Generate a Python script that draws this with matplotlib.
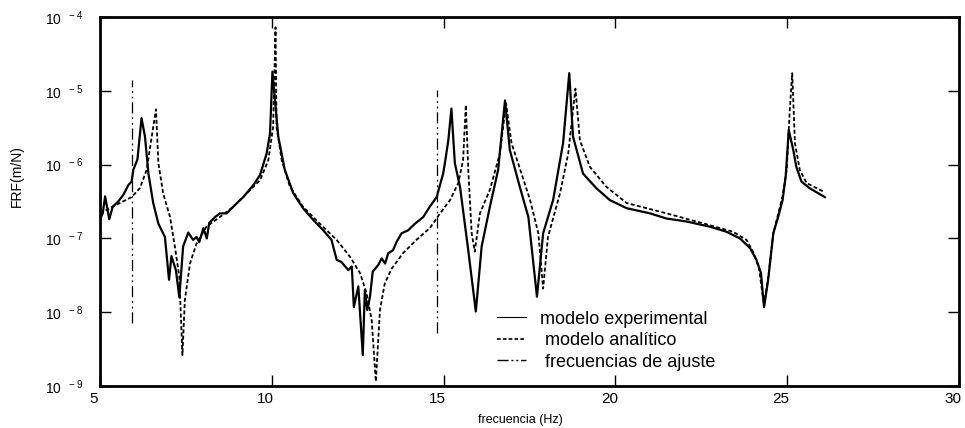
import matplotlib
matplotlib.use('Agg')
import matplotlib.pyplot as plt
import matplotlib.transforms as mtransforms
import numpy as np
from matplotlib.lines import Line2D
from matplotlib.ticker import FixedLocator, FuncFormatter

plt.rcParams['font.family'] = ['Liberation Sans', 'DejaVu Sans']
plt.rcParams['mathtext.fontset'] = 'custom'
plt.rcParams['mathtext.rm'] = 'Liberation Sans'
plt.rcParams['mathtext.default'] = 'regular'
plt.rcParams['axes.unicode_minus'] = False

# modelo experimental: frecuencia (Hz) and log10 FRF (m/N)
f_exp = [5.00, 5.08, 5.15, 5.27, 5.37, 5.53, 5.68, 5.82, 5.92, 5.97, 6.09, 6.21,
         6.31, 6.41, 6.55, 6.70, 6.89, 7.01, 7.08, 7.21, 7.31, 7.42, 7.57, 7.71,
         7.81, 7.89, 8.01, 8.11, 8.18, 8.35, 8.49, 8.69, 8.88, 9.17, 9.46, 9.66,
         9.85, 9.95, 10.02, 10.19, 10.38, 10.63, 10.91, 11.21, 11.50, 11.74, 11.89,
         12.03, 12.23, 12.33, 12.39, 12.52, 12.65, 12.71, 12.78, 12.86, 12.94,
         13.10, 13.20, 13.30, 13.39, 13.53, 13.63, 13.78, 13.97, 14.17, 14.41,
         14.60, 14.80, 14.99, 15.04, 15.14, 15.23, 15.33, 15.48, 15.72, 15.94,
         16.11, 16.35, 16.59, 16.79, 16.93, 17.22, 17.47, 17.72, 17.90, 18.19,
         18.48, 18.66, 18.77, 19.06, 19.45, 19.84, 20.33, 21.01, 21.49, 22.07,
         22.75, 23.24, 23.63, 23.92, 24.11, 24.24, 24.33, 24.45, 24.60, 24.74,
         24.87, 24.96, 25.05, 25.18, 25.27, 25.42, 25.66, 26.10]
log_exp = [-6.74, -6.66, -6.43, -6.74, -6.57, -6.50, -6.41, -6.28, -6.23, -6.07,
           -5.93, -5.37, -5.62, -6.12, -6.52, -6.80, -6.98, -7.56, -7.24, -7.43,
           -7.80, -7.11, -6.92, -7.02, -6.98, -7.05, -6.86, -7.00, -6.79, -6.71,
           -6.66, -6.66, -6.57, -6.44, -6.28, -6.14, -5.85, -5.58, -4.74, -5.62,
           -6.07, -6.39, -6.59, -6.75, -6.89, -7.02, -7.29, -7.32, -7.43, -7.38,
           -7.93, -7.65, -8.58, -7.70, -7.97, -7.79, -7.45, -7.36, -7.27, -7.34,
           -7.20, -7.16, -7.05, -6.93, -6.89, -6.80, -6.71, -6.57, -6.44, -6.12,
           -5.98, -5.67, -5.24, -5.98, -6.30, -7.16, -7.99, -7.11, -6.57, -6.07,
           -5.13, -5.80, -6.30, -6.71, -7.79, -6.93, -6.48, -5.71, -4.76, -5.62,
           -6.12, -6.32, -6.48, -6.59, -6.66, -6.73, -6.77, -6.84, -6.91, -7.00,
           -7.13, -7.29, -7.47, -7.93, -7.56, -6.93, -6.71, -6.48, -6.16, -5.53,
           -5.80, -6.03, -6.23, -6.32, -6.44]

# modelo analitico
f_ana = [5.00, 5.29, 5.58, 5.92, 6.16, 6.36, 6.50, 6.63, 6.70, 6.84, 7.04, 7.18,
         7.31, 7.40, 7.47, 7.62, 7.81, 8.10, 8.49, 8.88, 9.27, 9.66, 9.90, 10.04,
         10.11, 10.14, 10.29, 10.53, 10.91, 11.40, 11.89, 12.28, 12.57, 12.76,
         12.91, 13.03, 13.15, 13.29, 13.49, 13.82, 14.21, 14.60, 14.90, 15.19,
         15.43, 15.57, 15.65, 15.72, 15.82, 15.91, 16.06, 16.35, 16.64, 16.82,
         16.98, 17.27, 17.52, 17.76, 17.90, 18.04, 18.39, 18.63, 18.84, 18.97,
         19.26, 19.74, 20.33, 21.49, 22.75, 23.43, 23.82, 24.01, 24.18, 24.33,
         24.45, 24.60, 24.86, 24.99, 25.08, 25.15, 25.23, 25.37, 25.57, 26.08]
log_ana = [-6.66, -6.59, -6.52, -6.44, -6.32, -6.07, -5.64, -5.25, -5.98, -6.39,
           -6.71, -7.11, -7.52, -8.58, -7.84, -7.34, -7.07, -6.84, -6.71, -6.57,
           -6.39, -6.21, -5.94, -5.49, -4.14, -5.49, -5.94, -6.30, -6.57, -6.80,
           -7.02, -7.25, -7.47, -7.74, -8.11, -8.94, -7.97, -7.61, -7.41, -7.20,
           -7.02, -6.86, -6.66, -6.48, -6.25, -5.94, -5.19, -6.07, -6.93, -7.18,
           -6.66, -6.34, -5.85, -5.17, -5.71, -6.12, -6.48, -6.93, -7.68, -6.98,
           -6.39, -5.85, -4.97, -5.67, -6.03, -6.30, -6.52, -6.66, -6.82, -6.91,
           -7.02, -7.18, -7.40, -7.90, -7.54, -6.93, -6.45, -6.07, -5.26, -4.76,
           -5.71, -6.07, -6.25, -6.37]

# frecuencias de ajuste (vertical markers)
f_ajuste = [5.94, 14.82]
ajuste_top = [1.4e-5, 1.02e-5]
ajuste_bottom = [7.1e-9, 5.2e-9]

xticks = [5, 10, 15, 20, 25, 30]
yticks = [1e-9, 1e-8, 1e-7, 1e-6, 1e-5, 1e-4]

fig = plt.figure(figsize=(9.65, 4.28), dpi=100)
ax = fig.add_axes([0.1036, 0.0981, 0.890, 0.862])

ax.plot(f_exp, 10 ** np.array(log_exp), color='black', lw=1.6)
ax.plot(f_ana, 10 ** np.array(log_ana), color='black', lw=1.3,
        linestyle=(0, (2.2, 1.3)))
for f, top, bot in zip(f_ajuste, ajuste_top, ajuste_bottom):
    ax.plot([f, f], [bot, top], color='black', lw=0.9,
            linestyle=(0, (9, 3, 1.5, 3, 1.5, 3)))

ax.set_yscale('log')
ax.set_xlim(5, 30)
ax.set_ylim(1e-9, 1e-4)
ax.xaxis.set_major_locator(FixedLocator(xticks))
ax.yaxis.set_major_locator(FixedLocator(yticks))
ax.yaxis.set_minor_locator(FixedLocator([]))
ax.yaxis.set_major_formatter(
    FuncFormatter(lambda v, p: r'$10^{\ \ %d}$' % round(np.log10(v))))

ax.tick_params(direction='in', length=8, width=1, top=True, right=True)
ax.tick_params(axis='y', labelsize=10, pad=12)
ax.tick_params(axis='x', labelsize=11, pad=4)
for s in ax.spines.values():
    s.set_linewidth(2)

# x tick labels sit a little left of their ticks in the original
shift = mtransforms.ScaledTranslation(-6 / 100, 0, fig.dpi_scale_trans)
for lbl in ax.get_xticklabels():
    lbl.set_transform(lbl.get_transform() + shift)

ax.set_ylabel('FRF(m/N)', fontsize=10)
ax.yaxis.set_label_coords(-0.089, 0.569)
ax.set_xlabel('frecuencia (Hz)', fontsize=9)
ax.xaxis.set_label_coords(0.49, -0.075)

handles = [Line2D([], [], color='black', lw=0.8),
           Line2D([], [], color='black', lw=1.2, linestyle=(0, (2.2, 1.3))),
           Line2D([], [], color='black', lw=1.0, linestyle=(0, (8, 2, 1.5, 2, 1.5, 2)))]
labels = ['modelo experimental', ' modelo analítico', ' frecuencias de ajuste']
ax.legend(handles, labels, loc='center left', bbox_to_anchor=(0.462, 0.123),
          frameon=False, fontsize=13, handlelength=1.6, handletextpad=0.8,
          labelspacing=0.25, borderpad=0, borderaxespad=0)

plt.savefig('out.png', dpi=100)
